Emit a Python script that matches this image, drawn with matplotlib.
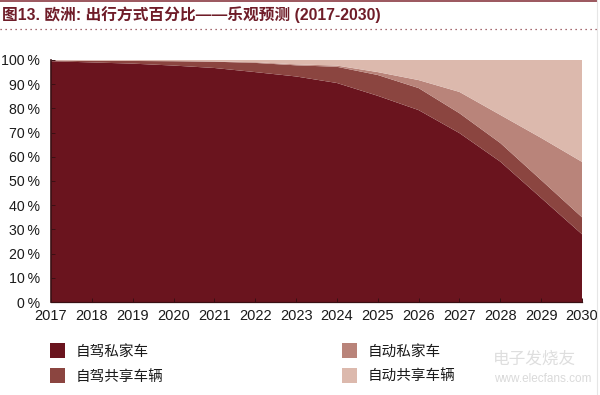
import matplotlib
matplotlib.use('Agg')
import matplotlib.pyplot as plt
from matplotlib.lines import Line2D
from matplotlib.patches import Rectangle

plt.rcParams['font.family'] = ['Liberation Sans', 'Noto Sans CJK SC', 'DejaVu Sans']

years = [2017, 2018, 2019, 2020, 2021, 2022, 2023, 2024, 2025, 2026, 2027, 2028, 2029, 2030]
names = ['自驾私家车', '自驾共享车辆', '自动私家车', '自动共享车辆']
colors = ['#6a141e', '#8b4540', '#b9847a', '#dcb9ad']

own_drive = [99.5, 99, 98.5, 97.7, 96.7, 95, 93.2, 90.5, 85.2, 79.3, 69.8, 58, 43, 28]
shared_drive = [0.3, 0.7, 1.1, 1.8, 2.6, 3.8, 4.6, 6.7, 8.6, 9.1, 8.2, 7.7, 7.4, 7]
own_auto = [0, 0, 0, 0, 0.1, 0.3, 0.4, 0.5, 1.2, 3.3, 8.8, 11.6, 17.4, 22.9]
shared_auto = [0.2, 0.3, 0.4, 0.5, 0.6, 0.9, 1.8, 2.3, 5, 8.3, 13.2, 22.7, 32.2, 42.1]
pct_ticks = [0, 10, 20, 30, 40, 50, 60, 70, 80, 90, 100]

W, H = 600, 395
fig = plt.figure(figsize=(W / 100, H / 100), dpi=100)
ax = fig.add_axes([51 / W, 1 - 302 / H, 531 / W, 242 / H])

ax.stackplot(years, own_drive, shared_drive, own_auto, shared_auto, colors=colors, linewidth=0)
ax.set_xlim(years[0], years[-1])
ax.set_ylim(0, 100)
ax.set_xticks(years)
ax.set_yticks(pct_ticks)
ax.set_yticklabels([f'{p}\u2009%' for p in pct_ticks])
ax.tick_params(axis='x', direction='in', length=3, width=0.7, color='#3a1014', labelsize=10.5,
               pad=5, labelcolor='#1a1a1a')
ax.tick_params(axis='y', direction='in', length=3, width=0.7, color='#3a1014', labelsize=10.2,
               pad=8, labelcolor='#1a1a1a')
ax.spines[['top', 'right']].set_visible(False)
ax.spines['left'].set_color('#3a1014')
ax.spines['left'].set_linewidth(1.2)
ax.spines['bottom'].set_color('#3a1014')
ax.spines['bottom'].set_linewidth(0.9)

# header rules and title
fig.add_artist(Line2D([0, 597 / W], [1 - 1 / H] * 2, color='#8a3a42', lw=1.2))
fig.add_artist(Line2D([0, 597 / W], [1 - 28.5 / H] * 2, color='#8a3a42', lw=0.9, ls=(0, (1, 3))))
fig.add_artist(Line2D([597 / W] * 2, [0, 1], color='#e6e6e6', lw=0.8))
fig.text(2 / W, 1 - 15 / H, '图13. 欧洲: 出行方式百分比——乐观预测 (2017-2030)', fontsize=11.3,
         fontweight='bold', color='#6f1c28', va='center', ha='left')

# legend
legend_pos = [(50, 351), (50, 376), (342, 351), (342, 376)]
for name, color, (x, y) in zip(names, colors, legend_pos):
    fig.add_artist(Rectangle((x / W, 1 - (y + 7) / H), 15 / W, 15 / H, color=color, lw=0))
    fig.text((x + 26) / W, 1 - (y + 0.5) / H, name, fontsize=10.5, color='#1a1a1a', va='center', ha='left')

# watermark
fig.text(493 / W, 1 - 359 / H, '电子发烧友', fontsize=12, style='italic', color='#dedede', va='center', ha='left')
fig.text(494 / W, 1 - 379 / H, 'www.elecfans.com', fontsize=8.5, color='#dadada', va='center', ha='left')

fig.savefig('out.png', dpi=100)
